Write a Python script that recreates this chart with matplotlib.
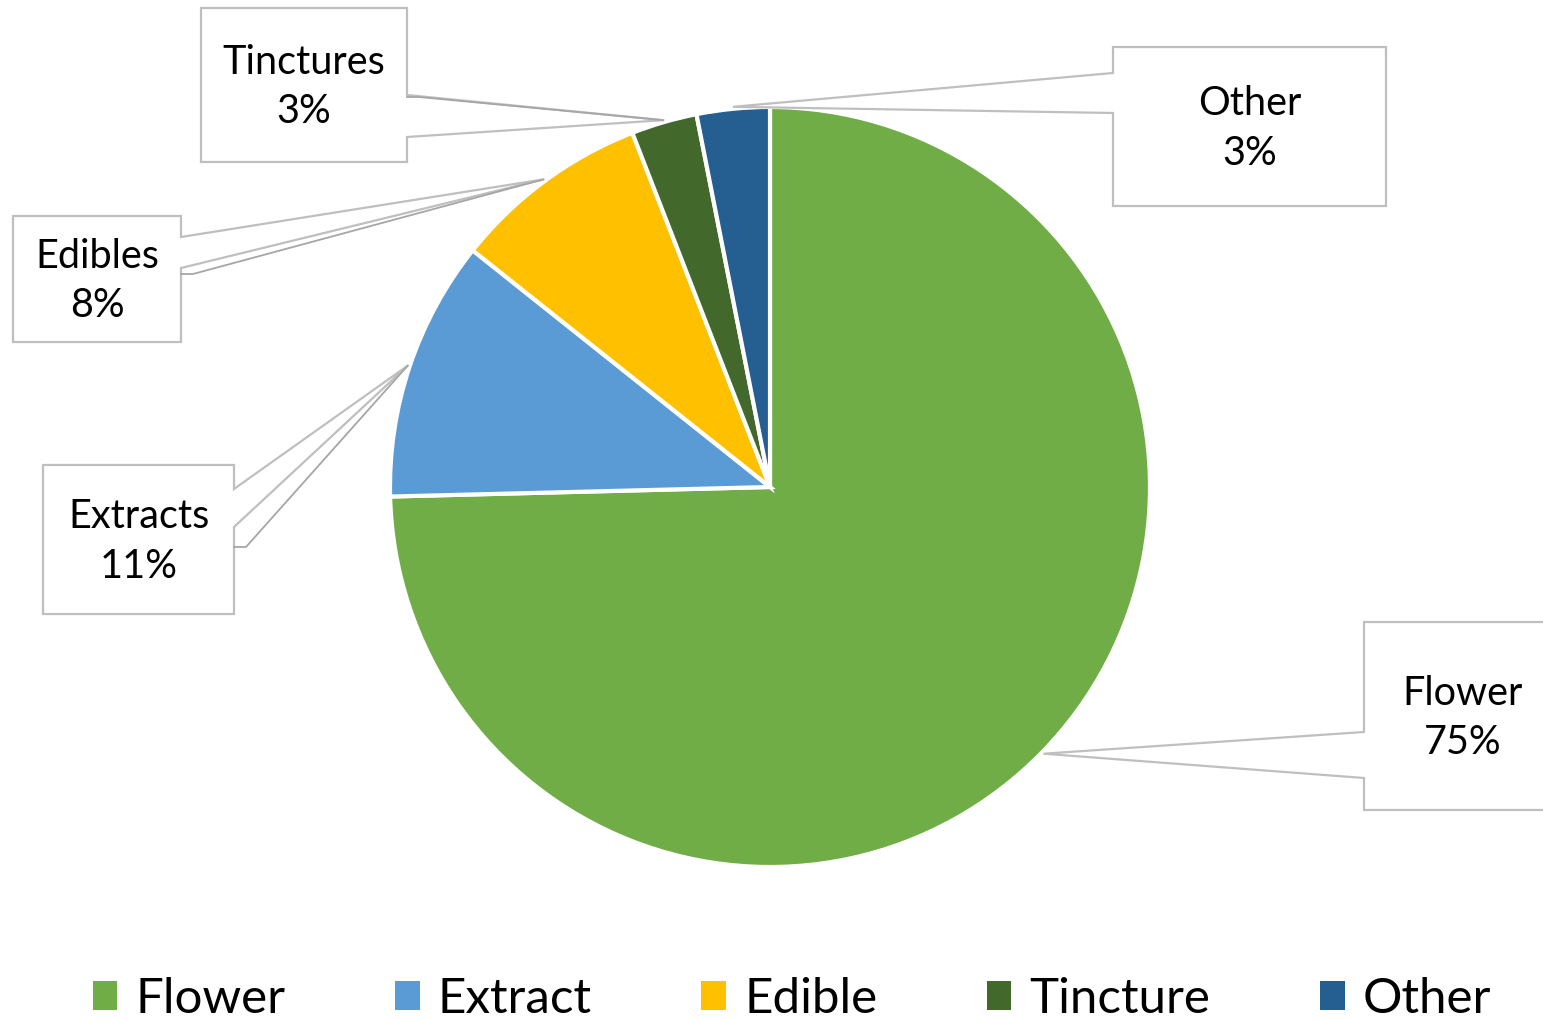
import matplotlib
matplotlib.use("Agg")
import matplotlib.pyplot as plt
import numpy as np
from matplotlib.patches import Polygon, Patch

categories = ["Flower", "Extract", "Edible", "Tincture", "Other"]
values = [74.6, 11.1, 8.4, 2.8, 3.1]
callout_names = ["Flower", "Extracts", "Edibles", "Tinctures", "Other"]
pct_labels = ["75%", "11%", "8%", "3%", "3%"]
colors = ["#70AD47", "#5B9BD5", "#FFC000", "#43682B", "#255E91"]

plt.rcParams['font.family'] = ['Lato', 'DejaVu Sans']

W, H = 1543, 1019
fig = plt.figure(figsize=(W / 100, H / 100), dpi=100)
ax = fig.add_axes([0, 0, 1, 1])

def Y(y):
    return H - y

cx, cy, R = 770, 487, 380
wedges, _ = ax.pie(values, colors=colors, startangle=90, counterclock=False,
                   center=(cx, Y(cy)), radius=R,
                   wedgeprops=dict(edgecolor='white', linewidth=3))
ax.set_xlim(0, W)
ax.set_ylim(0, H)
ax.set_aspect('equal')
ax.axis('off')

# callout boxes: (left, right, top, bottom, side, base_y1, base_y2, leader_y)
boxes = [
    (1364, 1560, 622, 810, 'left', 732, 778, None),
    (43, 234, 465, 614, 'right', 489, 527, 547),
    (13, 181, 216, 342, 'right', 237, 268, 274),
    (201, 407, 8, 162, 'right', 95, 137, 97),
    (1113, 1386, 47, 206, 'left', 73, 113, None),
]
gray = '#BFBFBF'
for i, (w, b) in enumerate(zip(wedges, boxes)):
    l, r, t, bt, side, b1, b2, ly = b
    mid = np.deg2rad((w.theta1 + w.theta2) / 2)
    tx = cx + (R + 2) * np.cos(mid)
    ty = Y(cy) + (R + 2) * np.sin(mid)
    if side == 'right':
        pts = [(l, Y(t)), (r, Y(t)), (r, Y(b1)), (tx, ty), (r, Y(b2)), (r, Y(bt)), (l, Y(bt))]
    else:
        pts = [(l, Y(t)), (r, Y(t)), (r, Y(bt)), (l, Y(bt)), (l, Y(b2)), (tx, ty), (l, Y(b1))]
    ax.add_patch(Polygon(pts, closed=True, facecolor='white', edgecolor=gray,
                         linewidth=1.6, zorder=3, clip_on=False))
    if ly is not None:
        ax.plot([r, r + 12, tx], [Y(ly), Y(ly), ty], color='#A6A6A6', lw=1.3, zorder=4)
    xc = (l + r) / 2
    if i == 0:
        xc = 1463
    yc = (t + bt) / 2 + 2
    ax.text(xc, Y(yc), callout_names[i] + "\n" + pct_labels[i], ha='center', va='center',
            fontsize=28.5, color='black', linespacing=1.43, zorder=5)

handles = [Patch(facecolor=c, edgecolor='none') for c in colors]
leg = ax.legend(handles, categories, loc='center', bbox_to_anchor=(792 / W, Y(999) / H),
                ncol=5, frameon=False, fontsize=35.5, handlelength=0.5, handleheight=0.5,
                handletextpad=0.37, columnspacing=2.22, borderaxespad=0)

fig.savefig("out.png", dpi=100)
